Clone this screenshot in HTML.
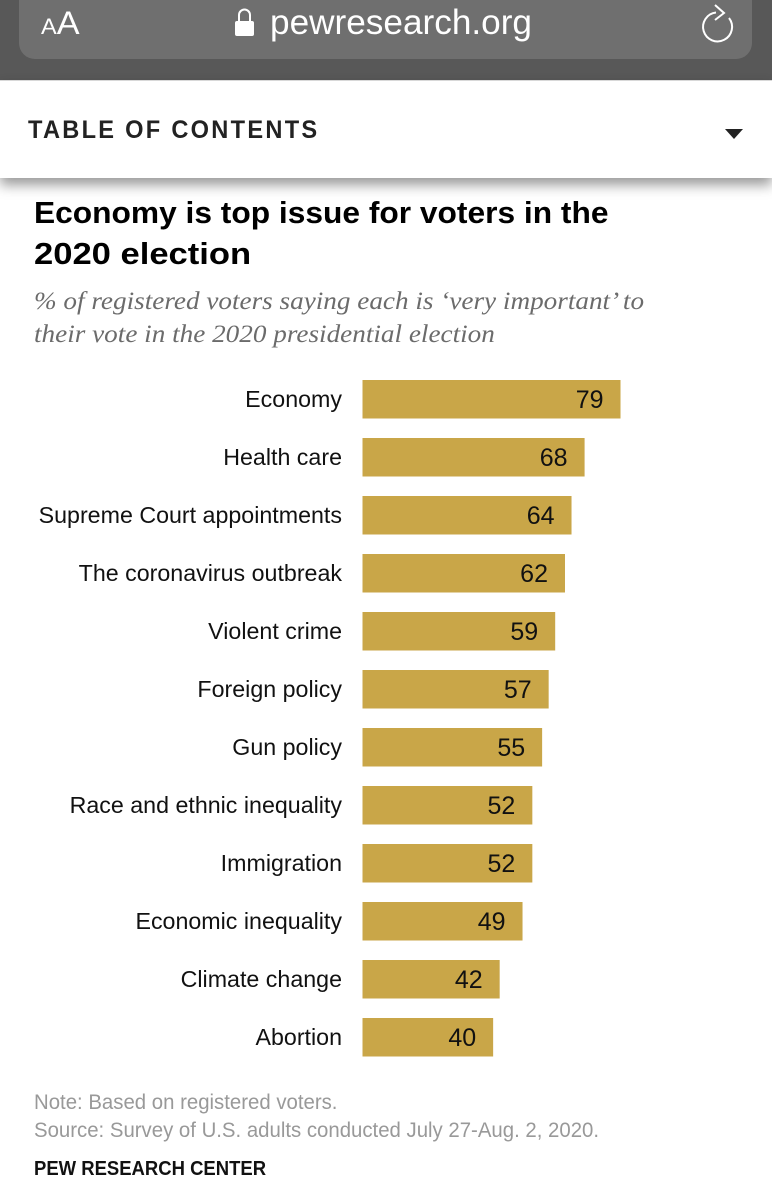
<!DOCTYPE html>
<html lang="en">
<head>
<meta charset="utf-8">
<title>Economy is top issue for voters in the 2020 election</title>
<style>
html,body{margin:0;padding:0;background:#fff;}
#page{position:relative;width:772px;height:1200px;overflow:hidden;background:#fff;font-family:"Liberation Sans",sans-serif;}
#page svg{position:absolute;left:0;top:0;}
.t{position:absolute;white-space:nowrap;transform-origin:0 0;}
</style>
</head>
<body>
<div id="page">
  <div style="position:absolute;left:0;top:0;width:772px;height:80px;background:#585858;"></div>
  <div style="position:absolute;left:19px;top:-20px;width:733px;height:79px;background:#6f6f6f;border-radius:16px;"></div>
  <div class="t" style="left:41px;top:5px;color:#fff;font-size:32px;line-height:36px;transform:scaleX(1.07);"><span style="font-size:22px;">A</span>A</div>
  <svg width="772" height="80">
    <g>
      <rect x="235" y="21" width="19" height="15" rx="2" fill="#fff"/>
      <path d="M239 22V15a5.500 5.500 0 0 1 11 0V22" fill="none" stroke="#fff" stroke-width="2"/>
    </g>
    <g>
      <path d="M716 12.500A14.500 14.500 0 1 0 729 18" fill="none" stroke="#fff" stroke-width="2"/>
      <path d="M715 5L724 13L715 20" fill="none" stroke="#fff" stroke-width="2"/>
    </g>
  </svg>
  <div class="t" style="left:270px;top:0;color:#fff;font-size:35px;line-height:46px;transform:scaleX(1.005);">pewresearch.org</div>

  <div style="position:absolute;left:0;top:80px;width:772px;height:98px;background:#fff;border-top:1px solid #d8d8d8;box-sizing:border-box;box-shadow:0 7px 12px rgba(0,0,0,.4);"></div>
  <div class="t" style="left:28px;top:114px;color:#222;font-size:25px;font-weight:bold;line-height:32px;letter-spacing:2.4px;transform:scaleX(.945);">TABLE OF CONTENTS</div>
  <svg width="772" height="200"><path d="M725 129H743L734 139Z" fill="#222"/></svg>

  <div class="t" style="left:34px;top:192px;color:#000;font-size:31px;font-weight:bold;line-height:41px;transform:scaleX(1.023);">Economy is top issue for voters in the</div>
  <div class="t" style="left:34px;top:233px;color:#000;font-size:31px;font-weight:bold;line-height:41px;transform:scaleX(1.115);">2020 election</div>
  <div class="t" style="left:34px;top:285px;color:#6b6b6b;font-family:'Liberation Serif',serif;font-style:italic;font-size:25px;line-height:33px;transform:scaleX(1.087);">% of registered voters saying each is ‘very important’ to<br>their vote in the 2020 presidential election</div>

  <svg id="chart" width="772" height="1200"></svg>

  <div class="t" style="left:34px;top:1089px;color:#999;font-size:21px;line-height:28px;transform:scaleX(.97);">Note: Based on registered voters.<br>Source: Survey of U.S. adults conducted July 27-Aug. 2, 2020.</div>
  <div class="t" style="left:34px;top:1156px;color:#111;font-size:20px;font-weight:bold;line-height:26px;transform:scaleX(.924);">PEW RESEARCH CENTER</div>
</div>
<script>
const categories = ["Economy","Health care","Supreme Court appointments","The coronavirus outbreak","Violent crime","Foreign policy","Gun policy","Race and ethnic inequality","Immigration","Economic inequality","Climate change","Abortion"];
const seriesValues = [79,68,64,62,59,57,55,52,52,49,42,40];

const svgNS = "http://www.w3.org/2000/svg";
const chart = document.getElementById("chart");
function xScale(v){ return v * 3.266; }
function yScale(i){ return 380 + i * 58; }
const barLeft = 362.5, barHeight = 38.5, labelRight = 342;
categories.forEach(function(name, i){
  const y = yScale(i);
  const w = xScale(seriesValues[i]);

  const bar = document.createElementNS(svgNS, "rect");
  
  
  bar.setAttribute("x", barLeft);
  bar.setAttribute("y", y);
  bar.setAttribute("width", w);
  bar.setAttribute("height", barHeight);
  bar.setAttribute("fill", "#c9a648");
  chart.appendChild(bar);

  const label = document.createElementNS(svgNS, "text");
  
  
  label.setAttribute("transform", "translate(" + labelRight + "," + (y + 27) + ") scale(1.01,1)");
  label.setAttribute("text-anchor", "end");
  label.setAttribute("font-size", "23");
  label.setAttribute("fill", "#111");
  label.textContent = name;
  chart.appendChild(label);

  const value = document.createElementNS(svgNS, "text");
  
  
  value.setAttribute("x", barLeft + w - 17);
  value.setAttribute("y", y + 28);
  value.setAttribute("text-anchor", "end");
  value.setAttribute("font-size", "25");
  value.setAttribute("fill", "#111");
  value.textContent = seriesValues[i];
  chart.appendChild(value);
});
</script>
</body>
</html>
